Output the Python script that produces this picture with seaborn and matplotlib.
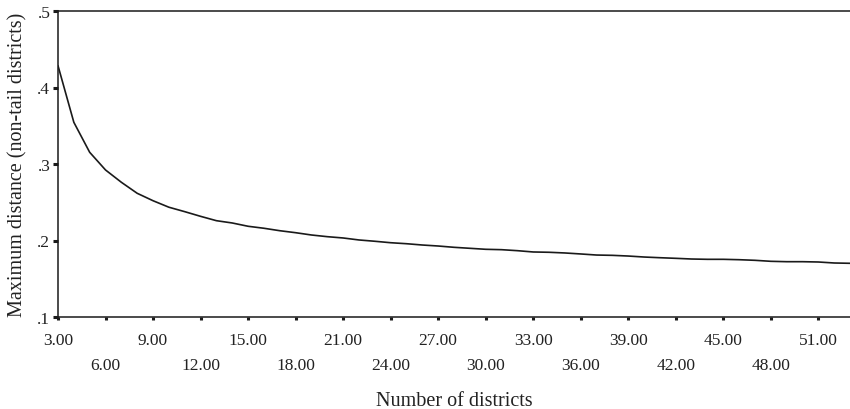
import numpy as np
import pandas as pd
import matplotlib
matplotlib.use("Agg")
import matplotlib.pyplot as plt
import seaborn as sns

districts = list(range(3, 54))
max_distance = [0.4285, 0.3545, 0.3153, 0.2922, 0.2761, 0.2617, 0.2520, 0.2435,
                0.2377, 0.2316, 0.2259, 0.2229, 0.2186, 0.2160, 0.2128, 0.2102,
                0.2072, 0.2050, 0.2033, 0.2007, 0.1990, 0.1971, 0.1958, 0.1941,
                0.1928, 0.1911, 0.1898, 0.1885, 0.1880, 0.1867, 0.1850, 0.1846,
                0.1837, 0.1824, 0.1810, 0.1806, 0.1797, 0.1784, 0.1775, 0.1767,
                0.1758, 0.1754, 0.1754, 0.1749, 0.1741, 0.1728, 0.1723, 0.1723,
                0.1719, 0.1706, 0.1702]
x_upper_ticks = [3, 9, 15, 21, 27, 33, 39, 45, 51]
x_lower_ticks = [6, 12, 18, 24, 30, 36, 42, 48]
y_ticks = [0.1, 0.2, 0.3, 0.4, 0.5]
y_tick_labels = [".1", ".2", ".3", ".4", ".5"]
x_label = "Number of districts"
y_label = "Maximum distance (non-tail districts)"

df = pd.DataFrame({"districts": districts, "max_distance": max_distance})

sns.set_style("ticks")
plt.rcParams["font.family"] = ["Liberation Serif", "DejaVu Serif"]

fig = plt.figure(figsize=(8.5, 4.1), dpi=100)
ax = fig.add_axes([58/850, 1-318/410, 1-58/850, (318-12)/410])

sns.lineplot(data=df, x="districts", y="max_distance", ax=ax,
             color="#1a1a1a", linewidth=1.2)

ax.set_xlim(3, 53)
ax.set_ylim(0.1, 0.5)

ax.set_xticks(x_upper_ticks)
ax.set_xticklabels([f"{v:.2f}" for v in x_upper_ticks])
ax.set_xticks(x_lower_ticks, minor=True)
ax.set_xticklabels([f"{v:.2f}" for v in x_lower_ticks], minor=True)
ax.tick_params(axis="x", which="major", length=2.5, width=2.2, pad=8,
               labelsize=12.5, color="#1a1a1a", labelcolor="#222222")
ax.tick_params(axis="x", which="minor", length=2.5, width=2.2, pad=26,
               labelsize=12.5, color="#1a1a1a", labelcolor="#222222")

ax.set_yticks(y_ticks)
ax.set_yticklabels(y_tick_labels)
ax.tick_params(axis="y", which="major", length=3.5, width=2.2, pad=2,
               labelsize=12.5, color="#1a1a1a", labelcolor="#222222")

for s in ["left", "top", "bottom"]:
    ax.spines[s].set_visible(True)
    ax.spines[s].set_linewidth(1.1)
    ax.spines[s].set_color("#1a1a1a")
ax.spines["right"].set_visible(False)

ax.set_xlabel(x_label, fontsize=14.5, color="#222222", labelpad=13)
ax.set_ylabel(y_label, fontsize=14.5, color="#222222", labelpad=7)

fig.savefig("out.png", dpi=100)
